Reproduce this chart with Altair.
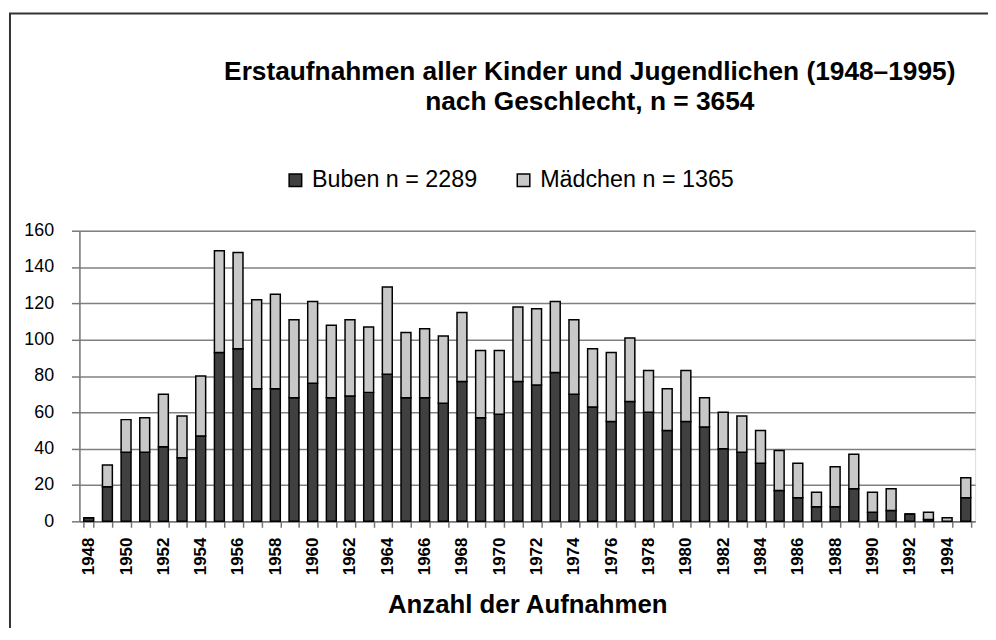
import altair as alt
import pandas as pd

years = list(range(1948, 1996))
buben = [2, 19, 38, 38, 41, 35, 47, 93, 95, 73, 73, 68,
         76, 68, 69, 71, 81, 68, 68, 65, 77, 57, 59, 77,
         75, 82, 70, 63, 55, 66, 60, 50, 55, 52, 40, 38,
         32, 17, 13, 8, 8, 18, 5, 6, 4, 1, 0, 13]
maedchen = [0, 12, 18, 19, 29, 23, 33, 56, 53, 49, 52, 43,
            45, 40, 42, 36, 48, 36, 38, 37, 38, 37, 35, 41,
            42, 39, 41, 32, 38, 35, 23, 23, 28, 16, 20, 20,
            18, 22, 19, 8, 22, 19, 11, 12, 0, 4, 2, 11]
series = ["Buben n = 2289", "Mädchen n = 1365"]
colors = ["#404040", "#c8c8c8"]
title_lines = ["Erstaufnahmen aller Kinder und Jugendlichen (1948–1995)",
               "nach Geschlecht, n = 3654"]
x_title = "Anzahl der Aufnahmen"

rows = []
for y, b, m in zip(years, buben, maedchen):
    rows.append({"Jahr": y, "Gruppe": series[0], "Anzahl": b, "o": 0})
    rows.append({"Jahr": y, "Gruppe": series[1], "Anzahl": m, "o": 1})
df = pd.DataFrame(rows)

FONT = "Liberation Sans"
W, H = 903, 293

bars = alt.Chart(df).mark_bar(stroke="black", strokeWidth=1.5).encode(
    x=alt.X("Jahr:O",
            scale=alt.Scale(paddingInner=0.47, paddingOuter=0.235),
            axis=alt.Axis(
                title=x_title,
                labelExpr="datum.value % 2 == 0 ? datum.label : ''",
                labelAngle=-90, labelOverlap=False, tickBand="extent",
                labelFont=FONT, labelFontSize=17, labelFontWeight="bold",
                labelColor="black", labelPadding=10,
                tickSize=6, tickColor="#777777", tickWidth=1.5,
                domainColor="#777777", domainWidth=1.5,
                titleFont=FONT, titleFontSize=26, titleFontWeight="bold",
                titleColor="black", titlePadding=17,
            )),
    y=alt.Y("Anzahl:Q",
            scale=alt.Scale(domain=[0, 160], nice=False),
            axis=alt.Axis(
                title=None, values=list(range(0, 161, 20)),
                labelFont=FONT, labelFontSize=18, labelColor="black",
                labelPadding=18, tickSize=8, tickColor="#777777",
                tickWidth=1.5, domainColor="#777777", domainWidth=1.5,
                grid=True, gridColor="#808080", gridWidth=1.5,
            )),
    color=alt.Color("Gruppe:N",
                    scale=alt.Scale(domain=series, range=colors),
                    legend=alt.Legend(
                        title=None, orient="none", direction="horizontal",
                        legendX=206, legendY=-63,
                        symbolType="square", symbolSize=160,
                        symbolStrokeColor="black", symbolStrokeWidth=1.5,
                        labelFont=FONT, labelFontSize=23.5, labelColor="black",
                        labelOffset=5, columnPadding=34,
                        labelLimit=400)),
    order=alt.Order("o:Q", sort="ascending"),
)

frame = alt.Chart(pd.DataFrame({"a": [0]})).mark_rect(
    fill=None, stroke="#333333", strokeWidth=2, clip=False
).encode(
    x=alt.value(-70), x2=alt.value(W + 200),
    y=alt.value(-219), y2=alt.value(H + 300),
)

chart = alt.layer(frame, bars).properties(
    width=W, height=H,
    title=alt.TitleParams(
        text=title_lines, font=FONT, fontSize=26.5, fontWeight="bold",
        color="black", anchor="middle", dx=63, offset=-104, lineHeight=30,
    ),
    autosize=alt.AutoSizeParams(type="none"),
    padding={"left": 72, "top": 222, "right": 13, "bottom": 105},
).configure_view(stroke=None).configure(background="white")

chart.save("out.html", embed_options={"renderer": "svg", "actions": False})
